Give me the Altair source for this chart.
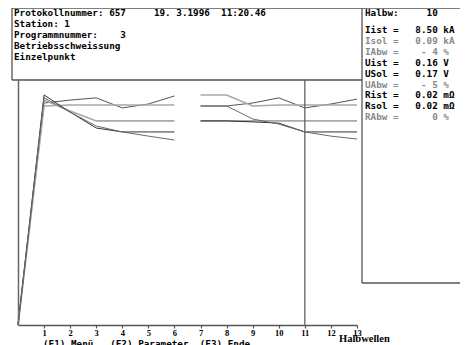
import altair as alt
import pandas as pd

# ---- data -------------------------------------------------------------
halbwellen_1 = [0, 1, 2, 3, 4, 5, 6]
halbwellen_2 = [7, 8, 9, 10, 11, 12, 13]

# five curves, two blocks each (gap between half-wave 6 and 7)
curve_a_1 = [0, 90.6, 91.8, 92.7, 88.6, 90.2, 93.5]
curve_a_2 = [89.4, 89.4, 90.6, 92.7, 88.6, 90.2, 92.2]
curve_b_1 = [0, 89.4, 89.8, 89.8, 89.8, 89.8, 89.8]
curve_b_2 = [93.9, 93.9, 89.4, 89.8, 89.8, 89.8, 89.8]
curve_c_1 = [0, 91.8, 87.3, 83.3, 83.3, 83.3, 83.3]
curve_c_2 = [83.3, 83.3, 83.3, 83.3, 83.3, 83.3, 83.3]
curve_d_1 = [0, 93.9, 86.9, 80.4, 78.8, 78.8, 78.8]
curve_d_2 = [83.3, 83.3, 82.9, 82.4, 78.8, 78.8, 78.8]
curve_e_1 = [0, 92.7, 86.9, 81.2, 78.8, 77.1, 75.5]
curve_e_2 = [89.4, 89.4, 84.1, 82.0, 78.8, 77.1, 75.9]

curve_names = ["a", "b", "c", "d", "e"]
curve_colors = ["#555555", "#a8a8a8", "#a8a8a8", "#333333", "#6a6a6a"]
curve_widths = [1.0, 1.6, 1.6, 1.0, 1.0]

marker_x = [11]
x_ticks = list(range(1, 14))

header_lines = [
    "Protokollnummer: 657     19. 3.1996  11:20.46",
    "Station: 1",
    "Programmnummer:    3",
    "Betriebsschweissung",
    "Einzelpunkt",
]
panel_title = "Halbw:     10"
panel_lines = [
    "Iist =   8.50 kA",
    "Isol =   0.09 kA",
    "IAbw =    - 4 %",
    "Uist =   0.16 V",
    "USol =   0.17 V",
    "UAbw =    - 5 %",
    "Rist =   0.02 m\u03a9",
    "Rsol =   0.02 m\u03a9",
    "RAbw =      0 %",
]
panel_strong = [True, False, False, True, True, False, True, True, False]
footer = "(F1) Men\u00fc   (F2) Parameter  (F3) Ende"
x_title = "Halbwellen"

# ---- build table ------------------------------------------------------
rows = []
blocks = {
    "a": (curve_a_1, curve_a_2), "b": (curve_b_1, curve_b_2),
    "c": (curve_c_1, curve_c_2), "d": (curve_d_1, curve_d_2),
    "e": (curve_e_1, curve_e_2),
}
for name, (s1, s2) in blocks.items():
    for x, y in zip(halbwellen_1, s1):
        rows.append({"curve": name, "seg": name + "1", "x": x, "y": y})
    for x, y in zip(halbwellen_2, s2):
        rows.append({"curve": name, "seg": name + "2", "x": x, "y": y})
df = pd.DataFrame(rows)

W, H = 339, 245
MONO = "DejaVu Sans Mono"
NB = "\u00a0"

xscale = alt.Scale(domain=[0, 13], nice=False, zero=False)
yscale = alt.Scale(domain=[0, 100], nice=False)

xaxis = alt.Axis(values=x_ticks, title=None, grid=False,
                 domainColor="#555", domainWidth=1.5,
                 tickColor="#555", tickSize=3, tickWidth=1.2,
                 labelOverlap=False, labelFlush=False, labelBound=False,
                 labelFont="Liberation Serif", labelFontWeight="bold",
                 labelFontSize=8.5, labelColor="#000", labelPadding=0)
yaxis = alt.Axis(labels=False, ticks=False, grid=False, title=None,
                 domainColor="#666", domainWidth=1.5)

lines = []
for name, col, w in zip(curve_names, curve_colors, curve_widths):
    lines.append(
        alt.Chart(df[df.curve == name]).mark_line(color=col, strokeWidth=w).encode(
            x=alt.X("x:Q", scale=xscale, axis=xaxis),
            y=alt.Y("y:Q", scale=yscale, axis=yaxis),
            detail="seg:N",
        )
    )

marker = alt.Chart(pd.DataFrame({"x": marker_x})).mark_rule(color="#555", strokeWidth=1.2).encode(
    x=alt.X("x:Q", scale=xscale, axis=xaxis)
)

def rule(x, x2, y, y2):
    return alt.Chart(pd.DataFrame({"k": [0]})).mark_rule(color="#555", strokeWidth=1.3).encode(
        x=alt.value(x), x2=alt.value(x2), y=alt.value(y), y2=alt.value(y2)
    )

frames = [
    rule(-6, 450, -72, -72),   # top border
    rule(-6, -6, -72, 0),      # header box left
    rule(-6, 344, 0, 0),       # header box bottom
    rule(344, 344, -72, 203),  # panel left
    rule(344, 450, 203, 203),  # panel bottom
]

def text_layer(lines_, x0, y0, dy, colors, size=9.3):
    layers = []
    for i, (t, c) in enumerate(zip(lines_, colors)):
        layers.append(
            alt.Chart(pd.DataFrame({"t": [t.replace(" ", NB)]})).mark_text(
                align="left", baseline="middle", font=MONO, fontSize=size,
                fontWeight="bold", color=c
            ).encode(x=alt.value(x0), y=alt.value(y0 + i * dy), text="t:N")
        )
    return layers

texts = []
texts += text_layer(header_lines, -4, -67, 11, ["#000"] * len(header_lines))
texts += text_layer([panel_title], 347, -67, 11, ["#000"])
texts += text_layer(panel_lines, 347, -50, 10.9,
                    ["#000" if s else "#8a8a8a" for s in panel_strong])
texts += text_layer([footer], 25, 264, 11, ["#000"])

xt = alt.Chart(pd.DataFrame({"t": [x_title]})).mark_text(
    align="left", baseline="middle", font="Liberation Serif", fontSize=10.5,
    fontWeight="bold", color="#000"
).encode(x=alt.value(321), y=alt.value(259), text="t:N")

chart = alt.layer(*lines, marker, *frames, *texts, xt).properties(
    width=W, height=H,
    padding={"left": 10, "top": 72, "right": 103, "bottom": 20},
    autosize=alt.AutoSizeParams(type="none"),
    background="white",
).configure_view(stroke=None).configure_axisX(labelOverlap=False)

chart.save("out.html", embed_options={"renderer": "svg", "actions": False})
